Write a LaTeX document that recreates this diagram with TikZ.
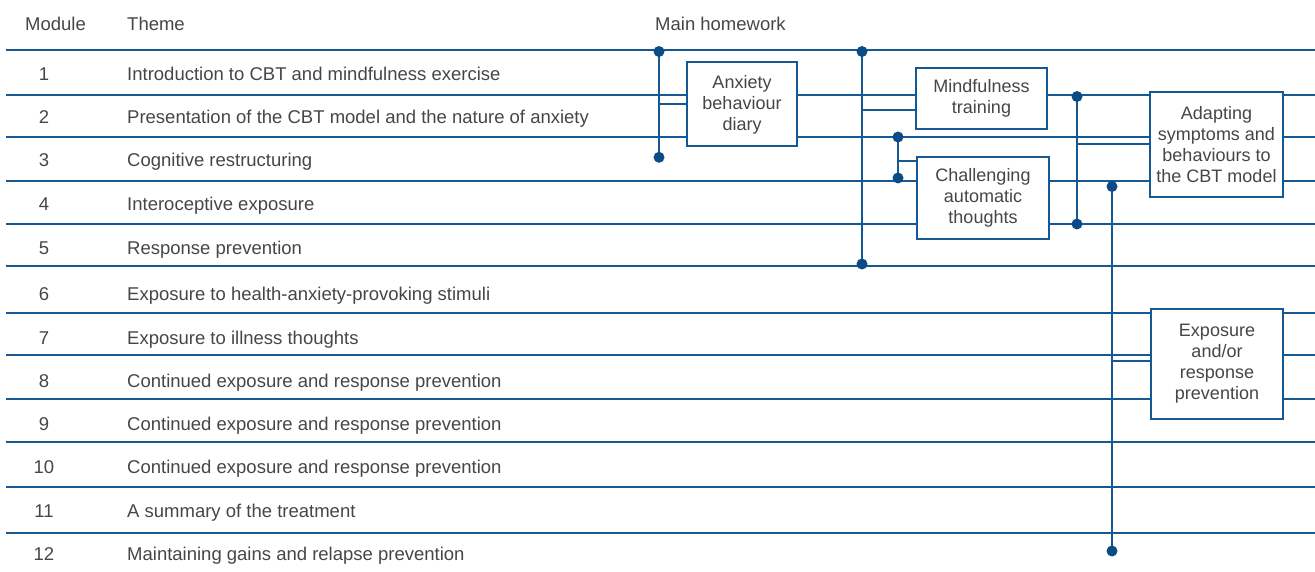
\documentclass[tikz,border=0pt]{standalone}
\usepackage{fontspec}
\setmainfont{Liberation Sans}
\definecolor{lineblue}{RGB}{22,88,148}
\definecolor{dotblue}{RGB}{12,76,134}
\definecolor{txtgray}{RGB}{70,70,70}
\tikzset{
  lbl/.style={text=txtgray, font=\fontsize{18.5}{20.5}\selectfont, inner sep=0pt},
  hwbox/.style={draw=lineblue, line width=2pt, fill=white, align=center, text=txtgray,
    font=\fontsize{18}{21}\selectfont, inner sep=0pt},
  rowline/.style={draw=lineblue, line width=2pt},
  conn/.style={draw=lineblue, line width=2pt},
  jdot/.style={fill=dotblue}
}
\begin{document}
\begin{tikzpicture}[x=1pt,y=-1pt]
\useasboundingbox (0,0) rectangle (1315,572);
% headers
\node[lbl, anchor=base west] (hmod) at (25,31) {Module};
\node[lbl, anchor=base west] (hthe) at (127,31) {Theme};
\node[lbl, anchor=base west] (hhw) at (655,31) {Main homework};
% rows
\foreach \k/\b/\t in {1/80.5/Introduction to CBT and mindfulness exercise,
  2/123.5/Presentation of the CBT model and the nature of anxiety,
  3/166.5/Cognitive restructuring,
  4/210.5/Interoceptive exposure,
  5/254.5/Response prevention,
  6/300.5/Exposure to health-anxiety-provoking stimuli,
  7/344.5/Exposure to illness thoughts,
  8/387.5/Continued exposure and response prevention,
  9/430.5/Continued exposure and response prevention,
  10/473.5/Continued exposure and response prevention,
  11/517.5/A summary of the treatment,
  12/560.5/Maintaining gains and relapse prevention}{
  \node[lbl, anchor=base] (num\k) at (44,\b) {\k};
  \node[lbl, anchor=base west] (theme\k) at (127,\b) {\t};
}
% boxes
\node[hwbox, minimum width=110pt, minimum height=84pt] (anx) at (742,104.5) {Anxiety\\behaviour\\diary};
\node[hwbox, minimum width=131pt, minimum height=61pt] (mind) at (981.5,98.5) {Mindfulness\\training};
\node[hwbox, minimum width=132pt, minimum height=82pt] (chal) at (983,198) {Challenging\\automatic\\thoughts};
\node[hwbox, minimum width=133pt, minimum height=105pt] (adapt) at (1216.5,144.5) {Adapting\\symptoms and\\behaviours to\\the CBT model};
\node[hwbox, minimum width=132pt, minimum height=110pt] (expo) at (1217,364) {Exposure\\and/or\\response\\prevention};
% row line end points
\foreach \k/\y in {0/50,1/95,2/137.5,3/181.5,4/224.5,5/266,6/313,7/355,8/399,9/442,10/487,11/532.5}{
  \coordinate (L\k) at (6,\y);
  \coordinate (R\k) at (1315,\y);
}
% row lines
\draw[rowline] (L0) -- (R0);
\draw[rowline] (L1) -- (L1 -| anx.west);
\draw[rowline] (L1 -| anx.east) -- (L1 -| mind.west);
\draw[rowline] (L1 -| mind.east) -- (L1 -| adapt.west);
\draw[rowline] (L1 -| adapt.east) -- (R1);
\draw[rowline] (L2) -- (L2 -| anx.west);
\draw[rowline] (L2 -| anx.east) -- (L2 -| adapt.west);
\draw[rowline] (L2 -| adapt.east) -- (R2);
\draw[rowline] (L3) -- (L3 -| chal.west);
\draw[rowline] (L3 -| chal.east) -- (L3 -| adapt.west);
\draw[rowline] (L3 -| adapt.east) -- (R3);
\draw[rowline] (L4) -- (L4 -| chal.west);
\draw[rowline] (L4 -| chal.east) -- (R4);
\draw[rowline] (L5) -- (R5);
\foreach \k in {6,7,8}{
  \draw[rowline] (L\k) -- (L\k -| expo.west);
  \draw[rowline] (L\k -| expo.east) -- (R\k);
}
\foreach \k in {9,10,11}{
  \draw[rowline] (L\k) -- (R\k);
}
% vertical connectors
\coordinate (v1a) at (659,51.5); \coordinate (v1b) at (659,157.3); \coordinate (v1m) at (659,104);
\coordinate (v2a) at (862,51.5); \coordinate (v2b) at (862,264); \coordinate (v2m) at (862,110.5);
\coordinate (v3a) at (898,137); \coordinate (v3b) at (898,178); \coordinate (v3m) at (898,160.7);
\coordinate (v4a) at (1077,96.5); \coordinate (v4b) at (1077,224); \coordinate (v4m) at (1077,144);
\coordinate (v5a) at (1112,186.5); \coordinate (v5b) at (1112,551); \coordinate (v5m) at (1112,361);
\draw[conn] (v1a) -- (v1b);
\draw[conn] (v1m) -- (v1m -| anx.west);
\draw[conn] (v2a) -- (v2b);
\draw[conn] (v2m) -- (v2m -| mind.west);
\draw[conn] (v3a) -- (v3b);
\draw[conn] (v3m) -- (v3m -| chal.west);
\draw[conn] (v4a) -- (v4b);
\draw[conn] (v4m) -- (v4m -| adapt.west);
\draw[conn] (v5a) -- (v5b);
\draw[conn] (v5m) -- (v5m -| expo.west);
\foreach \p in {v1a,v1b,v2a,v2b,v3a,v3b,v4a,v4b,v5a,v5b}{
  \fill[jdot] (\p) circle (5.5pt);
}
\end{tikzpicture}
\end{document}
